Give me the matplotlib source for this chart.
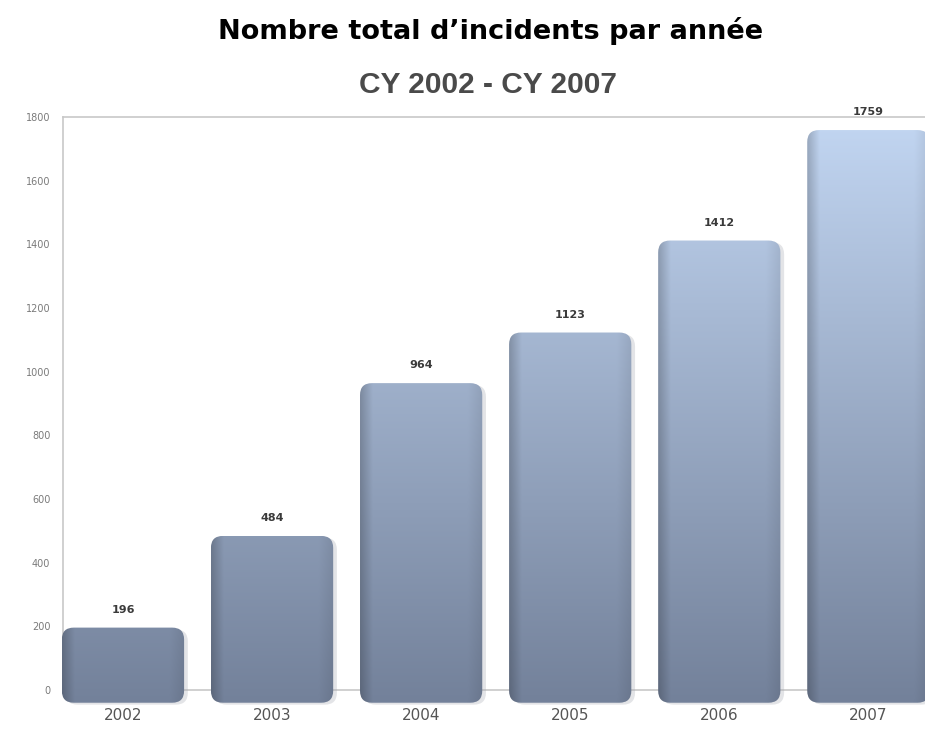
import numpy as np
import matplotlib.pyplot as plt
from matplotlib.patches import FancyBboxPatch
from matplotlib.colors import to_rgb

# data
years = ['2002', '2003', '2004', '2005', '2006', '2007']
incidents = [196, 484, 964, 1123, 1412, 1759]
y_ticks = [0, 200, 400, 600, 800, 1000, 1200, 1400, 1600, 1800]

title = 'Nombre total d\u2019incidents par ann\u00e9e'
subtitle = 'CY 2002 - CY 2007'

# style
bar_w = 0.82
base = -40  # bars sink a little under the axis line (3D look)
dark = np.array(to_rgb('#73819a'))
light = np.array(to_rgb('#c2d6f2'))

fig = plt.figure(figsize=(9.25, 7.29), dpi=100)
ax = fig.add_axes([0.068, 0.0535, 0.932, 0.786])
ax.set_xlim(-0.403, 5.38)
ax.set_ylim(0, 1800)

# px -> data aspect for rounded corners
bbox = ax.get_window_extent()
x_per_px = (5.38 + 0.403) / bbox.width
y_per_px = 1800 / bbox.height
aspect = y_per_px / x_per_px

ny, nx = 200, 80
xs = np.linspace(0, 1, nx)
# horizontal shading: dark left edge, light middle, slightly dark right
hprof = 0.80 + 0.20 * np.clip(xs / 0.10, 0, 1)
hprof = hprof * (1 - 0.08 * np.clip((xs - 0.88) / 0.12, 0, 1))

for i, v in enumerate(incidents):
    x0 = i - bar_w / 2
    # soft shadow
    sh = FancyBboxPatch((x0 + 0.025, base - 6), bar_w, v - base,
                        boxstyle='round,pad=0,rounding_size=0.08',
                        mutation_aspect=aspect, fc='#a4a8b0', ec='none',
                        alpha=0.3, clip_on=False, zorder=1)
    ax.add_patch(sh)
    p = FancyBboxPatch((x0, base), bar_w, v - base,
                       boxstyle='round,pad=0,rounding_size=0.08',
                       mutation_aspect=aspect, fc='none', ec='none',
                       clip_on=False, zorder=2)
    ax.add_patch(p)
    ys = np.linspace(v, base, ny)
    t = np.clip((ys - base) / (1800 - base), 0, 1)[:, None, None]
    img = (dark + t * (light - dark)) * hprof[None, :, None]
    im = ax.imshow(np.clip(img, 0, 1), extent=(x0, x0 + bar_w, base, v),
                   aspect='auto', zorder=2, interpolation='bilinear')
    im.set_clip_path(p)
    im.set_clip_box(fig.bbox)
    ax.text(i, v + 40, str(v), ha='center', va='bottom', fontsize=8,
            fontweight='bold', color='#3a3a3a', clip_on=False)

ax.set_xlim(-0.403, 5.38)
ax.set_ylim(0, 1800)
ax.set_xticks(range(len(years)))
ax.set_xticklabels(years, fontsize=11, color='#555555')
ax.set_yticks(y_ticks)
ax.set_yticklabels([str(t) for t in y_ticks], fontsize=7, color='#7a7a7a')
ax.tick_params(length=0)
ax.tick_params(axis='x', pad=13)
ax.tick_params(axis='y', pad=9)
for s in ['left', 'top', 'bottom']:
    ax.spines[s].set_color('#c8c8c8')
    ax.spines[s].set_linewidth(1.2)
    ax.spines[s].set_zorder(0.5)
ax.spines['right'].set_visible(False)

fig.text(0.53, 0.958, title, ha='center', va='center', fontsize=19.5,
         fontweight='bold', color='black')
fig.text(0.528, 0.883, subtitle, ha='center', va='center', fontsize=21.5,
         fontweight='bold', color='#4a4a4a', family='Liberation Sans')

fig.savefig('out.png', dpi=100)
